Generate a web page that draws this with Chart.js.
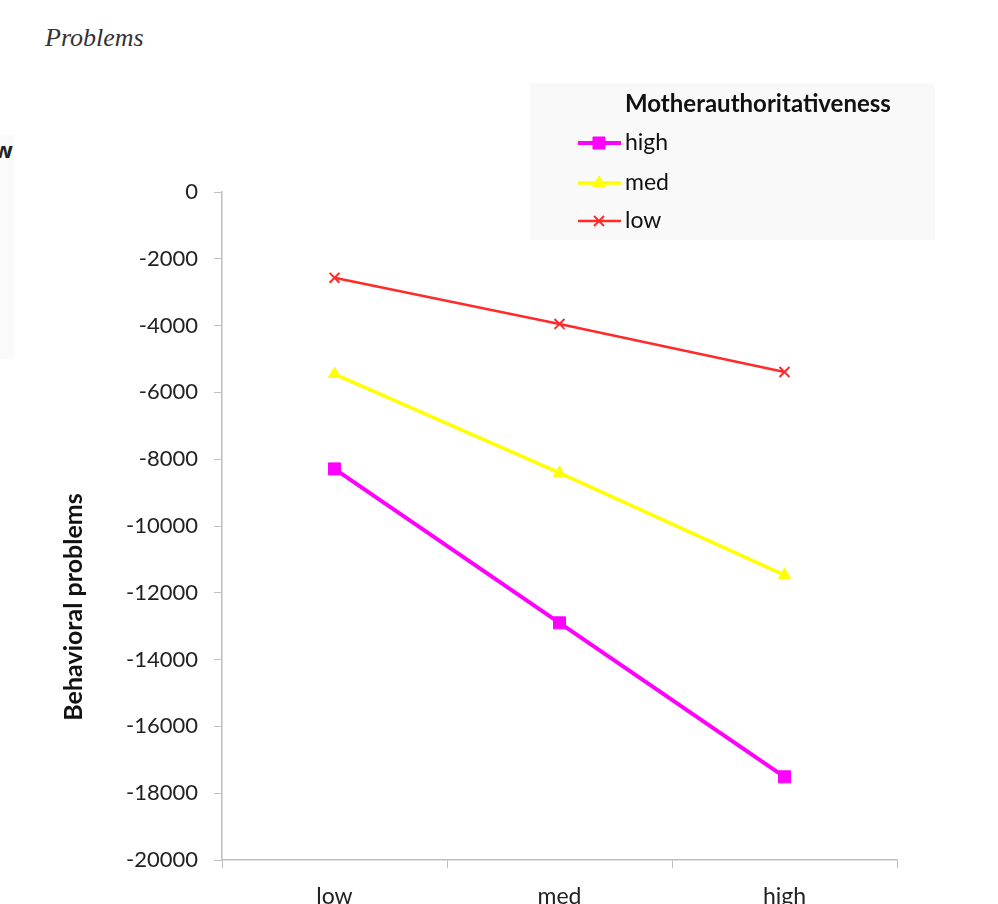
<!DOCTYPE html>
<html>
<head>
<meta charset="utf-8">
<script src="https://cdn.jsdelivr.net/npm/chart.js@4.4.1/dist/chart.umd.min.js"></script>
<style>
  html, body { margin: 0; padding: 0; background: #fff; overflow: hidden; }
  #wrap { position: relative; width: 998px; height: 904px; }
  #doc-title { position: absolute; left: 45px; top: 23px; font-family: "Liberation Serif", "DejaVu Serif", serif; font-style: italic; font-size: 26px; color: #333; }
  #side-panel { position: absolute; left: 0; top: 135px; width: 14px; height: 224px; background: #fafafa; }
  #side-w { position: absolute; left: -6px; top: 134px; font-family: "Open Sans", sans-serif; font-weight: bold; font-size: 22px; color: #222; }
  canvas { position: absolute; left: 0; top: 0; }
</style>
</head>
<body>
<div id="wrap">
  <div id="side-panel"></div>
  <div id="side-w">w</div>
  <div id="doc-title">Problems</div>
  <canvas id="chart" width="998" height="904"></canvas>
</div>
<script>
// categories on the x axis
const categories = ['low', 'med', 'high'];

// Mother authoritativeness series
const seriesNames = ['high', 'med', 'low'];
const highValues = [-8290, -12900, -17510];
const medValues = [-5450, -8410, -11470];
const lowValues = [-2570, -3950, -5390];

const yTicks = [0, -2000, -4000, -6000, -8000, -10000, -12000, -14000, -16000, -18000, -20000];

const legendTitle = 'Motherauthoritativeness';
const yAxisTitle = 'Behavioral problems';

const tickFont = { family: 'Lato', size: 22 };
const axisGrey = '#bfbfbf';

// legend + y title drawn by hand so they sit where the original has them
const extrasPlugin = {
  id: 'extras',
  afterDraw(chart) {
    const ctx = chart.ctx;
    ctx.save();

    // y axis title
    ctx.translate(74, 607);
    ctx.rotate(-Math.PI / 2);
    ctx.fillStyle = '#111';
    ctx.font = 'bold 25px Lato';
    ctx.textAlign = 'center';
    ctx.textBaseline = 'middle';
    ctx.fillText(yAxisTitle, 0, 0);
    ctx.restore();

    // legend box
    ctx.save();
    ctx.fillStyle = '#f9f9f9';
    ctx.fillRect(530, 83, 405, 157);
    ctx.fillStyle = '#111';
    ctx.font = 'bold 24px Lato';
    ctx.textAlign = 'left';
    ctx.textBaseline = 'middle';
    ctx.fillText(legendTitle, 625, 104);

    const rowY = [143, 183, 221];
    chart.data.datasets.forEach((ds, i) => {
      const y = rowY[i];
      ctx.strokeStyle = ds.borderColor;
      ctx.lineWidth = ds.borderWidth;
      ctx.beginPath();
      ctx.moveTo(578, y);
      ctx.lineTo(621, y);
      ctx.stroke();
      ctx.fillStyle = ds.pointBackgroundColor;
      ctx.strokeStyle = ds.pointBorderColor;
      ctx.lineWidth = ds.pointBorderWidth;
      Chart.helpers.drawPoint(ctx, {
        pointStyle: ds.pointStyle,
        radius: ds.pointRadius,
        rotation: 0,
        borderWidth: ds.pointBorderWidth
      }, 599, y);
      ctx.fillStyle = '#111';
      ctx.font = '23px Lato';
      ctx.fillText(ds.label, 625, y);
    });
    ctx.restore();
  }
};

const ctx = document.getElementById('chart').getContext('2d');
const chart = new Chart(ctx, {
  type: 'line',
  data: {
    labels: categories,
    datasets: [{
      label: seriesNames[0],
      data: highValues,
      borderColor: '#ff00ff',
      borderWidth: 4,
      pointStyle: 'rect',
      pointRadius: 8.5,
      pointBackgroundColor: '#ff00ff',
      pointBorderColor: '#ff00ff',
      pointBorderWidth: 1
    }, {
      label: seriesNames[1],
      data: medValues,
      borderColor: '#ffff00',
      borderWidth: 3.5,
      pointStyle: 'triangle',
      pointRadius: 7,
      pointBackgroundColor: '#ffff00',
      pointBorderColor: '#ffff00',
      pointBorderWidth: 1
    }, {
      label: seriesNames[2],
      data: lowValues,
      borderColor: '#ff2a2a',
      borderWidth: 2.5,
      pointStyle: 'crossRot',
      pointRadius: 7,
      pointBackgroundColor: '#ff2a2a',
      pointBorderColor: '#ff2a2a',
      pointBorderWidth: 2
    }]
  },
  options: {
    responsive: false,
    animation: false,
    devicePixelRatio: 1,
    layout: { padding: { left: 0, right: 101, top: 192, bottom: 0 } },
    plugins: {
      legend: { display: false },
      tooltip: { enabled: false }
    },
    scales: {
      x: {
        offset: true,
        grid: {
          offset: true,
          drawOnChartArea: false,
          drawTicks: true,
          tickLength: 8,
          color: axisGrey
        },
        border: { color: axisGrey, width: 1.5 },
        ticks: { color: '#222', font: { family: 'Lato', size: 23 }, padding: 15, maxRotation: 0 },
        afterFit(scale) { scale.height = 44; }
      },
      y: {
        min: -20000,
        max: 0,
        grid: {
          drawOnChartArea: false,
          drawTicks: true,
          tickLength: 8,
          color: axisGrey
        },
        border: { color: axisGrey, width: 1.5 },
        afterBuildTicks(scale) {
          scale.ticks = yTicks.map(v => ({ value: v }));
        },
        ticks: {
          color: '#222',
          font: tickFont,
          padding: 16,
          callback: v => String(v)
        },
        afterFit(scale) { scale.width = 222; }
      }
    }
  },
  plugins: [extrasPlugin]
});
</script>
</body>
</html>
